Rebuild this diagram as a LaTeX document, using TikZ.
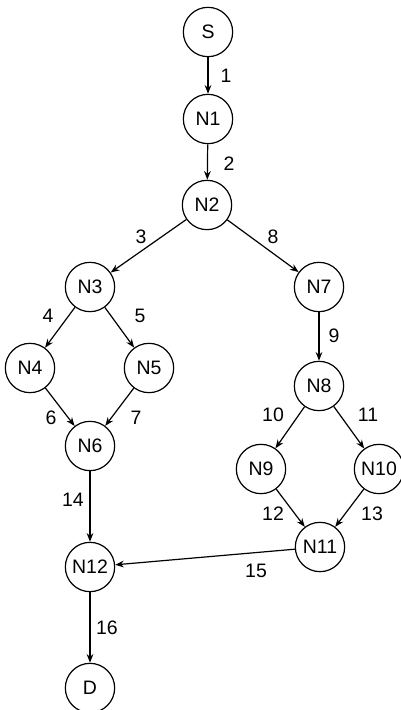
\documentclass[tikz,border=0pt]{standalone}
\usepackage{fontspec}
\setmainfont{Liberation Sans}
\usetikzlibrary{arrows.meta}

\begin{document}
\begin{tikzpicture}[x=0.75pt, y=-0.75pt, >={Stealth[length=6.5pt,width=5pt]},
  font=\fontsize{14.6}{17}\selectfont,
  vertice/.style={draw, circle, minimum size=37pt, inner sep=0pt, line width=0.9pt},
  arco/.style={->, line width=0.9pt}]
\useasboundingbox (0,0) rectangle (400,710);

% --- Nodi ---
\foreach \n/\x/\y in {S/208/32, N1/208/119, N2/207/205, N3/90/287, N7/319/287,
  N4/30/368, N5/149/368, N6/90/446, N8/319/386, N9/261/469, N10/379/469,
  N11/320/547, N12/90/567, D/90/688}{
  \node[vertice] (\n) at (\x,\y) {\n};
}

% --- Archi ---
\foreach \a/\b in {S/N1, N1/N2, N2/N3, N2/N7, N3/N4, N3/N5, N4/N6, N5/N6,
  N7/N8, N8/N9, N8/N10, N9/N11, N10/N11, N6/N12, N11/N12, N12/D}{
  \draw[arco] (\a) -- (\b);
}

% --- Etichette degli archi ---
\foreach \t/\x/\y in {1/226/76, 2/229/164, 3/141/237, 8/273/237, 4/48/316,
  5/140/316, 9/334/336, 6/51/418, 7/136/418, 10/273/415, 11/368/415,
  14/73/500, 12/273/514, 13/372/514, 15/256/571, 16/107/628}{
  \node (e\t) at (\x,\y) {\t};
}

\end{tikzpicture}
\end{document}
